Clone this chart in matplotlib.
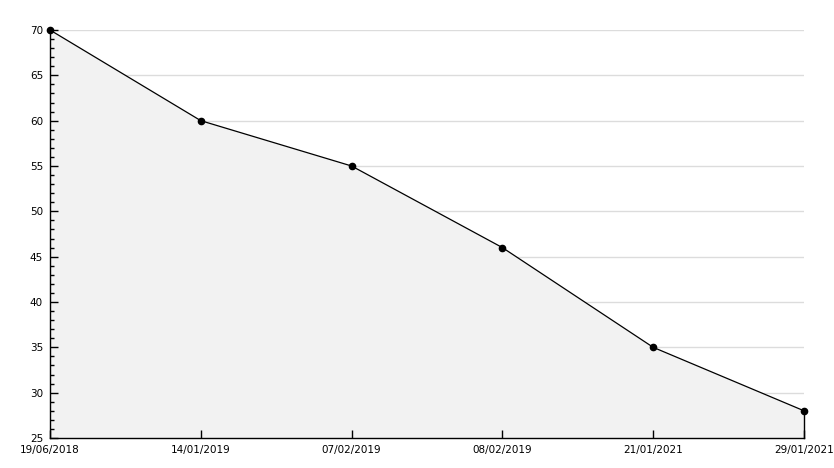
import matplotlib
matplotlib.use("Agg")
import matplotlib.pyplot as plt
from matplotlib.ticker import MultipleLocator

dates = ["19/06/2018", "14/01/2019", "07/02/2019", "08/02/2019", "21/01/2021", "29/01/2021"]
values = [70, 60, 55, 46, 35, 28]

W, H = 834, 468
fig = plt.figure(figsize=(W / 100, H / 100), dpi=100)
ax = fig.add_axes([50 / W, (H - 438) / H, (804 - 50) / W, (438 - 30) / H])

x = list(range(len(dates)))
ymin, ymax = 25, 70
ax.set_xlim(0, len(dates) - 1)
ax.set_ylim(ymin, ymax)
ax.set_xticks(x)
ax.set_xticklabels(dates)
ax.yaxis.set_major_locator(MultipleLocator(5))
ax.yaxis.set_minor_locator(MultipleLocator(1))

for yv in ax.get_yticks():
    if ymin < yv <= ymax:
        ax.axhline(yv, color="#dcdcdc", lw=1, zorder=0)

ax.fill_between(x, values, ymin, color="#f2f2f2", zorder=1, lw=0)
ax.plot([x[-1], x[-1]], [ymin, values[-1]], color="black", lw=1, zorder=3, clip_on=False)
ax.plot(x, values, color="black", lw=0.9, marker="o", ms=4.5, zorder=4, clip_on=False)

for s in ["top", "right"]:
    ax.spines[s].set_visible(False)
for s in ["left", "bottom"]:
    ax.spines[s].set_color("black")
    ax.spines[s].set_linewidth(1)

ax.tick_params(axis="y", which="major", direction="in", length=6, width=1, labelsize=7.5, pad=5)
ax.tick_params(axis="y", which="minor", direction="in", length=3, width=1)
ax.tick_params(axis="x", which="major", direction="in", length=6, width=1, labelsize=7.5, pad=5)
ax.patch.set_alpha(0)

fig.savefig("out.png", dpi=100)
